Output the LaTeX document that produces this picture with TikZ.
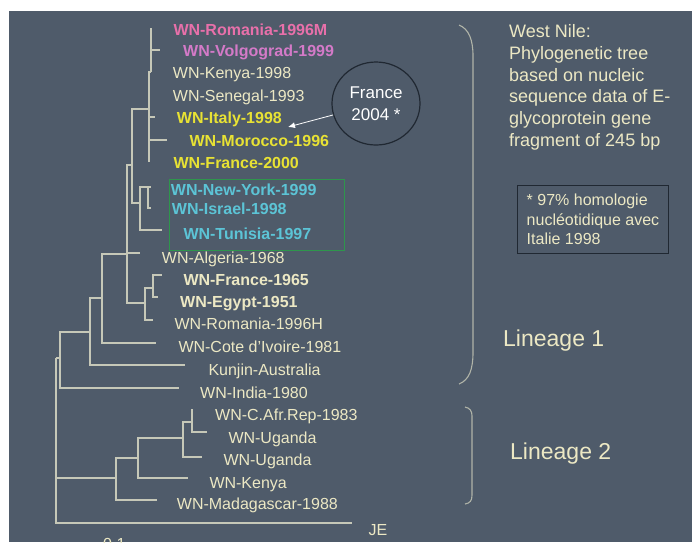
\documentclass[tikz,border=0pt]{standalone}
\usepackage{fontspec}
\setmainfont{Liberation Sans}
\usetikzlibrary{shapes.geometric,arrows.meta}
\definecolor{bg}{RGB}{79,91,106}
\definecolor{cream}{RGB}{236,232,196}
\definecolor{treec}{RGB}{198,200,184}
\definecolor{pinkA}{RGB}{232,112,170}
\definecolor{pinkB}{RGB}{212,122,200}
\definecolor{yel}{RGB}{232,226,52}
\definecolor{cyn}{RGB}{92,196,214}
\definecolor{grn}{RGB}{46,150,76}
\definecolor{darkline}{RGB}{32,40,50}
\definecolor{bracec}{RGB}{176,180,168}
\begin{document}
\begin{tikzpicture}[x=1pt,y=-1pt,
  br/.style={draw=treec, line width=1.4pt},
  leaf/.style={anchor=base west, inner sep=0pt, text=cream, font=\fontsize{16}{19}\selectfont},
  bleaf/.style={leaf, font=\fontsize{16}{19}\selectfont\bfseries},
  bigtxt/.style={anchor=base west, inner sep=0pt, text=cream, font=\fontsize{23}{27}\selectfont},
  bracestyle/.style={draw=bracec, line width=1.1pt}]
\useasboundingbox (0,0) rectangle (692,542);
\fill[white] (0,0) rectangle (692,542);
\fill[bg] (9,11) rectangle (692,542);

% ---------- internal coordinates ----------
\coordinate (root) at (56,358);
\coordinate (n60) at (60,358);
\coordinate (n90) at (90,332);
\coordinate (n102) at (102,298);
\coordinate (n127) at (127,254);
\coordinate (n145) at (145,303);
\coordinate (n153) at (153,288);
\coordinate (n132) at (132,165);
\coordinate (nNY) at (140,203);
\coordinate (nNI) at (148,187);
\coordinate (nA) at (149,109);
\coordinate (nR) at (151,72);
\coordinate (nL2) at (116,478);
\coordinate (n138) at (138,458);
\coordinate (n183) at (183,438);
\coordinate (n192) at (192,422);
% ---------- tips ----------
\coordinate (tRomM) at (151,28);
\coordinate (tVolg) at (160,50);
\coordinate (tKen98) at (151,72);
\coordinate (tSen) at (149,95);
\coordinate (tIta) at (155,117);
\coordinate (tMor) at (167,140);
\coordinate (tFr00) at (149,162);
\coordinate (tNY) at (151,187);
\coordinate (tIsr) at (151,208);
\coordinate (tTun) at (162,230);
\coordinate (tAlg) at (140,253);
\coordinate (tFr65) at (162,275);
\coordinate (tEgy) at (158,297);
\coordinate (tRomH) at (153,320);
\coordinate (tCote) at (156,343);
\coordinate (tKun) at (185,365);
\coordinate (tInd) at (179,388);
\coordinate (tCAf) at (193,410);
\coordinate (tUg1) at (207,432);
\coordinate (tUg2) at (202,457);
\coordinate (tKen) at (188,478);
\coordinate (tMad) at (157,500);
\coordinate (tJE) at (352,523);

% ---------- branches ----------
\draw[br] (root) -- (n60);
\draw[br] (root) |- (nL2);
\draw[br] (root) |- (tJE);
\draw[br] (n60) |- (n90);
\draw[br] (n60) |- (tInd);
\draw[br] (n90) |- (n102);
\draw[br] (n90) |- (tKun);
\draw[br] (n102) |- (n127);
\draw[br] (n102) |- (tCote);
\draw[br] (n127) |- (n132);
\draw[br] (n127) |- (tAlg);
\draw[br] (n127) |- (n145);
\draw[br] (n145) |- (n153);
\draw[br] (n145) |- (tRomH);
\draw[br] (n153) |- (tFr65);
\draw[br] (n153) |- (tEgy);
\draw[br] (n132) |- (nA);
\draw[br] (n132) |- (nNY);
\draw[br] (nNY) |- (nNI);
\draw[br] (nNY) |- (tTun);
\draw[br] (nNI) |- (tNY);
\draw[br] (nNI) |- (tIsr);
\draw[br] (nA) |- (nR);
\draw[br] (nA) |- (tSen);
\draw[br] (nA) |- (tIta);
\draw[br] (nA) |- (tMor);
\draw[br] (nA) |- (tFr00);
\draw[br] (nR) |- (tRomM);
\draw[br] (nR) |- (tVolg);
\draw[br] (nR) |- (tKen98);
\draw[br] (nL2) |- (n138);
\draw[br] (nL2) |- (tMad);
\draw[br] (n138) |- (n183);
\draw[br] (n138) |- (tKen);
\draw[br] (n183) |- (n192);
\draw[br] (n183) |- (tUg2);
\draw[br] (n192) |- (tCAf);
\draw[br] (n192) |- (tUg1);

% ---------- group box ----------
\node[draw=grn, line width=0.8pt, minimum width=175pt, minimum height=71pt, anchor=north west, inner sep=0pt] (grp) at (169,179) {};

% ---------- labels ----------
\node[bleaf, text=pinkA] (lRomM) at (173.3,35.7) {WN-Romania-1996M};
\node[bleaf, text=pinkB] (lVolg) at (183,56.4) {WN-Volgograd-1999};
\node[leaf] (lKen98) at (172.7,78) {WN-Kenya-1998};
\node[leaf] (lSen) at (172.7,101.7) {WN-Senegal-1993};
\node[bleaf, text=yel] (lIta) at (176.7,123.7) {WN-Italy-1998};
\node[bleaf, text=yel] (lMor) at (189.3,146.7) {WN-Morocco-1996};
\node[bleaf, text=yel] (lFr00) at (173.3,168.7) {WN-France-2000};
\node[bleaf, text=cyn] (lNY) at (170.7,195.7) {WN-New-York-1999};
\node[bleaf, text=cyn] (lIsr) at (171.7,214) {WN-Israel-1998};
\node[bleaf, text=cyn] (lTun) at (183.3,239) {WN-Tunisia-1997};
\node[leaf] (lAlg) at (161.7,263) {WN-Algeria-1968};
\node[bleaf] (lFr65) at (183.3,285) {WN-France-1965};
\node[bleaf] (lEgy) at (180,307.4) {WN-Egypt-1951};
\node[leaf] (lRomH) at (174.3,329.7) {WN-Romania-1996H};
\node[leaf] (lCote) at (178.3,352.4) {WN-Cote d'Ivoire-1981};
\node[leaf] (lKun) at (208.3,375.7) {Kunjin-Australia};
\node[leaf] (lInd) at (200,398) {WN-India-1980};
\node[leaf] (lCAf) at (215,420.7) {WN-C.Afr.Rep-1983};
\node[leaf] (lUg1) at (228.3,443) {WN-Uganda};
\node[leaf] (lUg2) at (223.3,465) {WN-Uganda};
\node[leaf] (lKen) at (209.3,488.4) {WN-Kenya};
\node[leaf] (lMad) at (176.7,509.7) {WN-Madagascar-1988};
\node[leaf] (lJE) at (368.3,535) {JE};
\node[leaf] (lscale) at (103,549) {0.1};

% ---------- France 2004 ----------
\node[ellipse, draw=darkline, line width=1.2pt, minimum width=88pt, minimum height=83pt,
      align=center, text=white, font=\fontsize{17}{22}\selectfont] (fr) at (376,103.5) {France\\2004 *};
\coordinate (frtip) at (288,127);
\draw[white, line width=0.8pt, -{Latex[length=7pt,width=6pt]}] (fr) -- (frtip);

% ---------- braces ----------
\draw[bracestyle] (459,25) .. controls (469,29) and (473,40) .. (473,56) -- (473,352) .. controls (473,370) and (469,380) .. (459,384);
\draw[bracestyle] (465,407) .. controls (470,408) and (472,411) .. (472,416) -- (472,495) .. controls (472,501) and (470,503) .. (465,504);

\node[bigtxt] (lin1) at (503,346.2) {Lineage 1};
\node[bigtxt] (lin2) at (510,459.2) {Lineage 2};

% ---------- description ----------
\node[anchor=north west, inner sep=0pt, align=left, text=cream, font=\fontsize{18}{21.8}\selectfont] (desc) at (509,24.3)
 {West Nile:\\Phylogenetic tree\\based on nucleic\\sequence data of E-\\glycoprotein gene\\fragment of 245 bp};

\node[draw=darkline, line width=1pt, anchor=north west, minimum height=68pt, minimum width=151pt, inner xsep=0pt, inner ysep=4pt,
      align=left, text=cream, font=\fontsize{16}{19.5}\selectfont] (note) at (517,185)
 {* 97\% homologie\\nucléotidique avec\\Italie 1998};
\end{tikzpicture}
\end{document}
